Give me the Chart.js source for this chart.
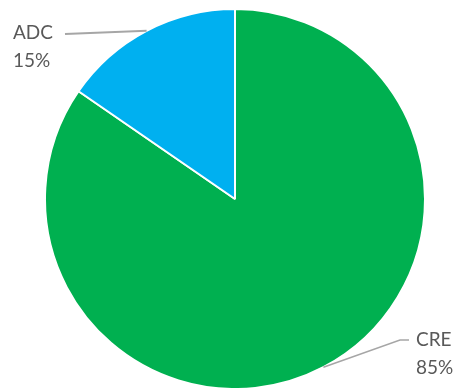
<!DOCTYPE html>
<html lang="en">
<head>
    <meta charset="UTF-8">
    <title>CRE vs ADC</title>
    <style>
        html, body { margin: 0; padding: 0; background: #fff; overflow: hidden; }
        .chart-container { width: 458px; height: 388px; position: relative; }
    </style>
</head>
<body>
    <div class="chart-container">
        <canvas id="pieChart"></canvas>
    </div>

    <script src="https://cdn.jsdelivr.net/npm/chart.js"></script>
    <script>
        const categories = ['CRE', 'ADC'];
        const shares = [84.6, 15.4];
        const sliceColors = ['#00B050', '#00B0F0'];

        // where each label sits (leader line end, text anchor)
        const labelSpots = {
            CRE: { elbow: [400, 340], end: [409, 340], textX: 416, textY: 340, width: 1.5 },
            ADC: { elbow: [65, 34], end: [65, 34], textX: 13, textY: 33, width: 2 }
        };

        const pieLabels = {
            id: 'pie-labels',
            afterDraw: (chart) => {
                const ctx = chart.ctx;
                const meta = chart.getDatasetMeta(0);
                const total = shares.reduce((a, b) => a + b, 0);
                ctx.save();
                meta.data.forEach((arc, i) => {
                    const name = categories[i];
                    const spot = labelSpots[name];
                    const mid = (arc.startAngle + arc.endAngle) / 2;
                    const px = arc.x + arc.outerRadius * Math.cos(mid);
                    const py = arc.y + arc.outerRadius * Math.sin(mid);

                    // leader line
                    ctx.strokeStyle = '#A6A6A6';
                    ctx.lineWidth = spot.width;
                    ctx.beginPath();
                    ctx.moveTo(px, py);
                    ctx.lineTo(spot.elbow[0], spot.elbow[1]);
                    ctx.lineTo(spot.end[0], spot.end[1]);
                    ctx.stroke();

                    // text
                    const pct = Math.round(shares[i] / total * 100) + '%';
                    ctx.fillStyle = '#595959';
                    ctx.font = '19px Lato';
                    ctx.textAlign = 'left';
                    ctx.textBaseline = 'middle';
                    ctx.fillText(name, spot.textX, spot.textY);
                    ctx.fillText(pct, spot.textX, spot.textY + 28);
                });
                ctx.restore();
            }
        };

        const ctx = document.getElementById('pieChart').getContext('2d');
        new Chart(ctx, {
            type: 'pie',
            data: {
                labels: categories,
                datasets: [{
                    data: shares,
                    backgroundColor: sliceColors,
                    borderColor: '#fff',
                    borderWidth: 2
                }]
            },
            options: {
                responsive: true,
                maintainAspectRatio: false,
                animation: false,
                events: [],
                radius: 190,
                layout: { padding: { left: 45, right: 33, top: 11, bottom: 1 } },
                plugins: {
                    legend: { display: false },
                    tooltip: { enabled: false }
                }
            },
            plugins: [pieLabels]
        });
    </script>
</body>
</html>
